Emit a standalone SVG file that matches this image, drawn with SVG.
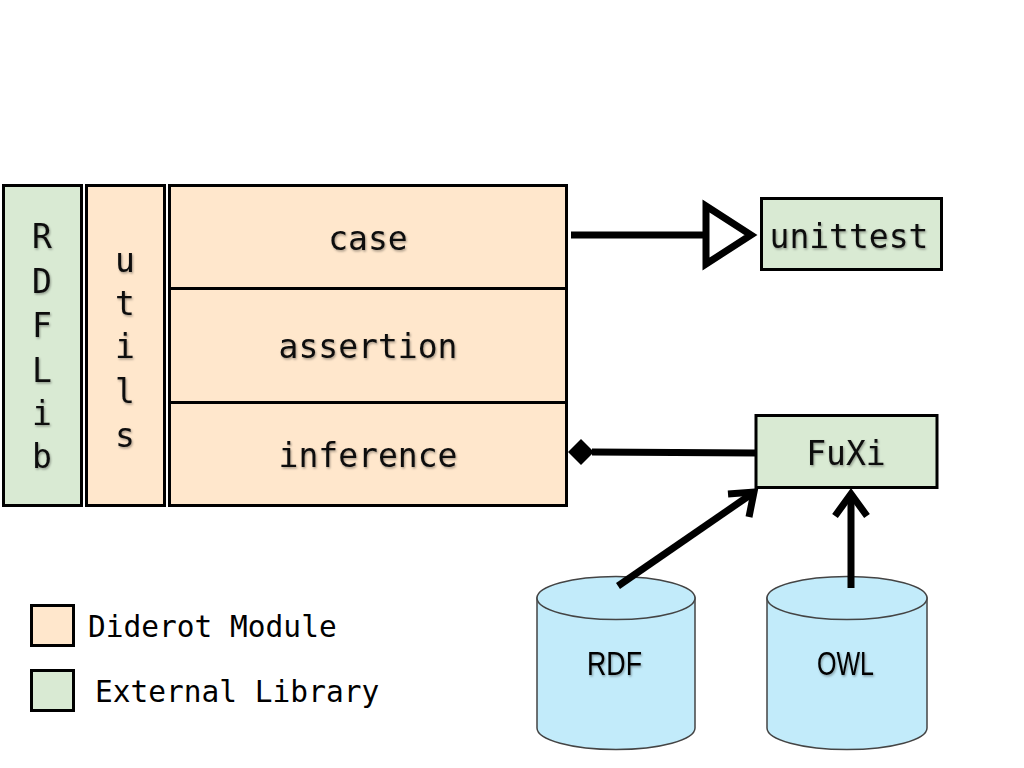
<svg xmlns="http://www.w3.org/2000/svg" width="1024" height="768" viewBox="0 0 1024 768">
<defs>
<style>
.box{stroke:#000;stroke-width:3}
.mod{fill:#ffe7cc}
.ext{fill:#d9ead3}
.t{font-family:"DejaVu Sans Mono","Liberation Mono",monospace;font-size:33px;fill:#111;text-anchor:middle;filter:url(#sh)}
.lg{font-family:"DejaVu Sans Mono","Liberation Mono",monospace;font-size:29.5px;fill:#000}
.cyl{fill:#c2ebfa;stroke:#444;stroke-width:1.5}
.ct{font-family:"Liberation Sans",Arial,sans-serif;font-size:33px;fill:#000;filter:url(#sh)}
.c{stroke:#000;stroke-width:7;fill:none}
</style>
<filter id="sh" x="-20%" y="-20%" width="140%" height="140%">
<feDropShadow dx="1" dy="1.5" stdDeviation="1.2" flood-color="#000" flood-opacity="0.35"/>
</filter>
</defs>
<rect width="1024" height="768" fill="#fff"/>

<g id="rdflib">
<rect class="box ext" x="3.5" y="185.5" width="78" height="320"/>
<text class="t" x="42" y="248">R</text>
<text class="t" x="42" y="293">D</text>
<text class="t" x="42" y="337">F</text>
<text class="t" x="42" y="382">L</text>
<text class="t" x="42" y="425">i</text>
<text class="t" x="42" y="468">b</text>
</g>

<g id="utils">
<rect class="box mod" x="86.5" y="185.5" width="78" height="320"/>
<text class="t" x="125" y="272">u</text>
<text class="t" x="125" y="315">t</text>
<text class="t" x="125" y="358">i</text>
<text class="t" x="125" y="403">l</text>
<text class="t" x="125" y="447">s</text>
</g>

<g id="case">
<rect class="box mod" x="169.5" y="185.5" width="397" height="103"/>
<text class="t" x="368" y="250">case</text>
</g>
<g id="assertion">
<rect class="box mod" x="169.5" y="288.5" width="397" height="114"/>
<text class="t" x="368" y="358">assertion</text>
</g>
<g id="inference">
<rect class="box mod" x="169.5" y="402.5" width="397" height="103"/>
<text class="t" x="368" y="467">inference</text>
</g>

<g id="unittest">
<rect class="box ext" x="761.5" y="198.5" width="180" height="71"/>
<text class="t" x="849" y="248">unittest</text>
</g>

<g id="fuxi">
<rect class="box ext" x="756" y="415.5" width="181" height="72"/>
<text class="t" x="846" y="465">FuXi</text>
</g>

<g id="rdf">
<path class="cyl" d="M537,598 L537,728 A79,21.5 0 0 0 695,728 L695,598 Z"/>
<ellipse class="cyl" cx="616" cy="598" rx="79" ry="21.5"/>
<text class="ct" x="587" y="675" textLength="55" lengthAdjust="spacingAndGlyphs">RDF</text>
</g>

<g id="owl">
<path class="cyl" d="M767,598 L767,728 A80,21.5 0 0 0 927,728 L927,598 Z"/>
<ellipse class="cyl" cx="847" cy="598" rx="80" ry="21.5"/>
<text class="ct" x="817" y="675" textLength="57" lengthAdjust="spacingAndGlyphs">OWL</text>
</g>

<g id="legend">
<rect class="box mod" x="31.5" y="605.5" width="42" height="40"/>
<text class="lg" x="88" y="637">Diderot Module</text>
<rect class="box ext" x="31.5" y="670.5" width="42" height="40"/>
<text class="lg" x="95" y="702">External Library</text>
</g>

<g id="connectors">
<line class="c" x1="571" y1="235" x2="705" y2="235"/>
<polygon points="706,206 706,264 751,235" fill="#fff" stroke="#000" stroke-width="7" stroke-linejoin="miter"/>
<line class="c" x1="592" y1="452" x2="756" y2="453"/>
<polygon points="568,452 581,439 594,452 581,465" fill="#000"/>
<line class="c" x1="618" y1="586" x2="753" y2="493"/>
<polyline class="c" points="728,494 754,492 749,517"/>
<line class="c" x1="851" y1="588" x2="851" y2="494"/>
<polyline class="c" points="835,516 851,494 867,516"/>
</g>
</svg>
